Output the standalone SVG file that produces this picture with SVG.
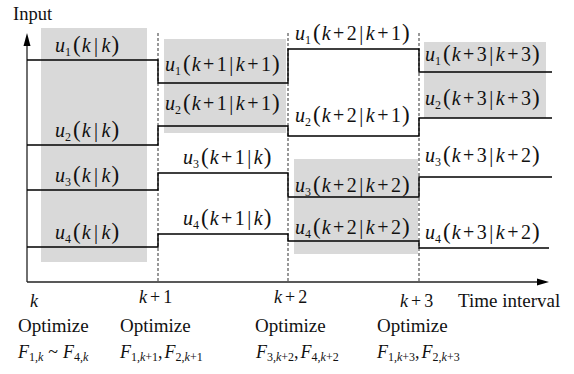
<svg xmlns="http://www.w3.org/2000/svg" width="574" height="374" viewBox="0 0 574 374">
<style>
.t{font-family:"Liberation Serif","Times New Roman","DejaVu Serif",serif;fill:#111}
.lb{font-size:20px}
.it{font-style:italic}
.sb{font-size:12px}
.pr{font-size:23px}
.ax{stroke:#222;stroke-width:1.3;fill:none}
.ds{stroke:#333;stroke-width:1;stroke-dasharray:3 2;fill:none}
.ln{stroke:#000;stroke-width:1.4;fill:none}
.bx{fill:#d9d9d9}
.fs{font-size:18px}
.fsub{font-size:12px}
</style>
<rect width="574" height="374" fill="#fff"/>
<g id="shading">
<rect class="bx" x="41" y="28" width="106" height="234"/>
<rect class="bx" x="164" y="39" width="122" height="94"/>
<rect class="bx" x="294" y="159" width="124" height="95"/>
<rect class="bx" x="424" y="42" width="122" height="76"/>
</g>
<g id="axes">
<line class="ax" x1="27" y1="282" x2="27" y2="45"/>
<polygon points="27,33 23.5,46 30.5,46" fill="#000"/>
<line class="ax" x1="27" y1="282" x2="538" y2="282"/>
<polygon points="549,282 537,278.5 537,285.5" fill="#000"/>
<text class="t" x="13" y="20" font-size="18.5">Input</text>
<text class="t" x="458" y="307" font-size="19">Time interval</text>
</g>
<g id="dividers">
<line class="ds" x1="158" y1="33" x2="158" y2="282"/>
<line class="ds" x1="288" y1="33" x2="288" y2="282"/>
<line class="ds" x1="419" y1="33" x2="419" y2="282"/>
</g>
<g id="connectors">
<path class="ln" d="M27,60 H158 V83 H288 V49 H419 V72 H552"/>
<path class="ln" d="M27,145 H158 V126 H288 V136 H419 V118 H552"/>
<path class="ln" d="M27,190 H158 V173 H288 V197 H419 V177 H552"/>
<path class="ln" d="M27,247 H158 V234 H288 V241 H419 V248 H549"/>
</g>
<g id="interval-k">
<text class="t lb" x="55" y="52"><tspan class="it">u</tspan><tspan class="sb" dy="4">1</tspan><tspan class="pr" dy="-4" dx="2">(</tspan><tspan class="it" dx="1">k</tspan><tspan dx="3.5">|</tspan><tspan class="it" dx="3.5">k</tspan><tspan class="pr" dx="1">)</tspan></text>
<text class="t lb" x="55" y="137"><tspan class="it">u</tspan><tspan class="sb" dy="4">2</tspan><tspan class="pr" dy="-4" dx="2">(</tspan><tspan class="it" dx="1">k</tspan><tspan dx="3.5">|</tspan><tspan class="it" dx="3.5">k</tspan><tspan class="pr" dx="1">)</tspan></text>
<text class="t lb" x="55" y="182"><tspan class="it">u</tspan><tspan class="sb" dy="4">3</tspan><tspan class="pr" dy="-4" dx="2">(</tspan><tspan class="it" dx="1">k</tspan><tspan dx="3.5">|</tspan><tspan class="it" dx="3.5">k</tspan><tspan class="pr" dx="1">)</tspan></text>
<text class="t lb" x="55" y="239"><tspan class="it">u</tspan><tspan class="sb" dy="4">4</tspan><tspan class="pr" dy="-4" dx="2">(</tspan><tspan class="it" dx="1">k</tspan><tspan dx="3.5">|</tspan><tspan class="it" dx="3.5">k</tspan><tspan class="pr" dx="1">)</tspan></text>
</g>
<g id="interval-k1">
<text class="t lb" x="165" y="71"><tspan class="it">u</tspan><tspan class="sb" dy="4">1</tspan><tspan class="pr" dy="-4" dx="2">(</tspan><tspan class="it" dx="1">k</tspan><tspan dx="2.5">+</tspan><tspan dx="2.5">1</tspan><tspan dx="2.5">|</tspan><tspan class="it" dx="2.5">k</tspan><tspan dx="2.5">+</tspan><tspan dx="2.5">1</tspan><tspan class="pr" dx="1">)</tspan></text>
<text class="t lb" x="165" y="110"><tspan class="it">u</tspan><tspan class="sb" dy="4">2</tspan><tspan class="pr" dy="-4" dx="2">(</tspan><tspan class="it" dx="1">k</tspan><tspan dx="2.5">+</tspan><tspan dx="2.5">1</tspan><tspan dx="2.5">|</tspan><tspan class="it" dx="2.5">k</tspan><tspan dx="2.5">+</tspan><tspan dx="2.5">1</tspan><tspan class="pr" dx="1">)</tspan></text>
<text class="t lb" x="183" y="164"><tspan class="it">u</tspan><tspan class="sb" dy="4">3</tspan><tspan class="pr" dy="-4" dx="2">(</tspan><tspan class="it" dx="1">k</tspan><tspan dx="2.5">+</tspan><tspan dx="2.5">1</tspan><tspan dx="2.5">|</tspan><tspan class="it" dx="2.5">k</tspan><tspan class="pr" dx="1">)</tspan></text>
<text class="t lb" x="183" y="225"><tspan class="it">u</tspan><tspan class="sb" dy="4">4</tspan><tspan class="pr" dy="-4" dx="2">(</tspan><tspan class="it" dx="1">k</tspan><tspan dx="2.5">+</tspan><tspan dx="2.5">1</tspan><tspan dx="2.5">|</tspan><tspan class="it" dx="2.5">k</tspan><tspan class="pr" dx="1">)</tspan></text>
</g>
<g id="interval-k2">
<text class="t lb" x="295" y="40"><tspan class="it">u</tspan><tspan class="sb" dy="4">1</tspan><tspan class="pr" dy="-4" dx="2">(</tspan><tspan class="it" dx="1">k</tspan><tspan dx="2.5">+</tspan><tspan dx="2.5">2</tspan><tspan dx="2.5">|</tspan><tspan class="it" dx="2.5">k</tspan><tspan dx="2.5">+</tspan><tspan dx="2.5">1</tspan><tspan class="pr" dx="1">)</tspan></text>
<text class="t lb" x="295" y="122"><tspan class="it">u</tspan><tspan class="sb" dy="4">2</tspan><tspan class="pr" dy="-4" dx="2">(</tspan><tspan class="it" dx="1">k</tspan><tspan dx="2.5">+</tspan><tspan dx="2.5">2</tspan><tspan dx="2.5">|</tspan><tspan class="it" dx="2.5">k</tspan><tspan dx="2.5">+</tspan><tspan dx="2.5">1</tspan><tspan class="pr" dx="1">)</tspan></text>
<text class="t lb" x="295" y="192"><tspan class="it">u</tspan><tspan class="sb" dy="4">3</tspan><tspan class="pr" dy="-4" dx="2">(</tspan><tspan class="it" dx="1">k</tspan><tspan dx="2.5">+</tspan><tspan dx="2.5">2</tspan><tspan dx="2.5">|</tspan><tspan class="it" dx="2.5">k</tspan><tspan dx="2.5">+</tspan><tspan dx="2.5">2</tspan><tspan class="pr" dx="1">)</tspan></text>
<text class="t lb" x="295" y="234"><tspan class="it">u</tspan><tspan class="sb" dy="4">4</tspan><tspan class="pr" dy="-4" dx="2">(</tspan><tspan class="it" dx="1">k</tspan><tspan dx="2.5">+</tspan><tspan dx="2.5">2</tspan><tspan dx="2.5">|</tspan><tspan class="it" dx="2.5">k</tspan><tspan dx="2.5">+</tspan><tspan dx="2.5">2</tspan><tspan class="pr" dx="1">)</tspan></text>
</g>
<g id="interval-k3">
<text class="t lb" x="425" y="61"><tspan class="it">u</tspan><tspan class="sb" dy="4">1</tspan><tspan class="pr" dy="-4" dx="2">(</tspan><tspan class="it" dx="1">k</tspan><tspan dx="2.5">+</tspan><tspan dx="2.5">3</tspan><tspan dx="2.5">|</tspan><tspan class="it" dx="2.5">k</tspan><tspan dx="2.5">+</tspan><tspan dx="2.5">3</tspan><tspan class="pr" dx="1">)</tspan></text>
<text class="t lb" x="425" y="105"><tspan class="it">u</tspan><tspan class="sb" dy="4">2</tspan><tspan class="pr" dy="-4" dx="2">(</tspan><tspan class="it" dx="1">k</tspan><tspan dx="2.5">+</tspan><tspan dx="2.5">3</tspan><tspan dx="2.5">|</tspan><tspan class="it" dx="2.5">k</tspan><tspan dx="2.5">+</tspan><tspan dx="2.5">3</tspan><tspan class="pr" dx="1">)</tspan></text>
<text class="t lb" x="425" y="162"><tspan class="it">u</tspan><tspan class="sb" dy="4">3</tspan><tspan class="pr" dy="-4" dx="2">(</tspan><tspan class="it" dx="1">k</tspan><tspan dx="2.5">+</tspan><tspan dx="2.5">3</tspan><tspan dx="2.5">|</tspan><tspan class="it" dx="2.5">k</tspan><tspan dx="2.5">+</tspan><tspan dx="2.5">2</tspan><tspan class="pr" dx="1">)</tspan></text>
<text class="t lb" x="425" y="239"><tspan class="it">u</tspan><tspan class="sb" dy="4">4</tspan><tspan class="pr" dy="-4" dx="2">(</tspan><tspan class="it" dx="1">k</tspan><tspan dx="2.5">+</tspan><tspan dx="2.5">3</tspan><tspan dx="2.5">|</tspan><tspan class="it" dx="2.5">k</tspan><tspan dx="2.5">+</tspan><tspan dx="2.5">2</tspan><tspan class="pr" dx="1">)</tspan></text>
</g>
<g id="time-k">
<text class="t it" x="30" y="307" font-size="18">k</text>
<text class="t" x="18" y="332" font-size="19">Optimize</text>
<text class="t fs" x="18" y="358"><tspan class="it">F</tspan><tspan class="fsub" dy="3">1,<tspan class="it">k</tspan></tspan><tspan dy="-3" dx="5">~</tspan><tspan class="it" dx="5">F</tspan><tspan class="fsub" dy="3">4,<tspan class="it">k</tspan></tspan></text>
</g>
<g id="time-k1">
<text class="t" x="139" y="303" font-size="18"><tspan class="it">k</tspan><tspan dx="3">+</tspan><tspan dx="3">1</tspan></text>
<text class="t" x="120" y="332" font-size="19">Optimize</text>
<text class="t fs" x="120" y="358"><tspan class="it">F</tspan><tspan class="fsub" dy="3">1,<tspan class="it">k</tspan>+1</tspan><tspan dy="-3">,</tspan><tspan class="it" dx="2">F</tspan><tspan class="fsub" dy="3">2,<tspan class="it">k</tspan>+1</tspan></text>
</g>
<g id="time-k2">
<text class="t" x="274" y="303" font-size="18"><tspan class="it">k</tspan><tspan dx="3">+</tspan><tspan dx="3">2</tspan></text>
<text class="t" x="255" y="332" font-size="19">Optimize</text>
<text class="t fs" x="256" y="358"><tspan class="it">F</tspan><tspan class="fsub" dy="3">3,<tspan class="it">k</tspan>+2</tspan><tspan dy="-3">,</tspan><tspan class="it" dx="2">F</tspan><tspan class="fsub" dy="3">4,<tspan class="it">k</tspan>+2</tspan></text>
</g>
<g id="time-k3">
<text class="t" x="400" y="307" font-size="18"><tspan class="it">k</tspan><tspan dx="3">+</tspan><tspan dx="3">3</tspan></text>
<text class="t" x="377" y="332" font-size="19">Optimize</text>
<text class="t fs" x="377" y="358"><tspan class="it">F</tspan><tspan class="fsub" dy="3">1,<tspan class="it">k</tspan>+3</tspan><tspan dy="-3">,</tspan><tspan class="it" dx="2">F</tspan><tspan class="fsub" dy="3">2,<tspan class="it">k</tspan>+3</tspan></text>
</g>
</svg>
